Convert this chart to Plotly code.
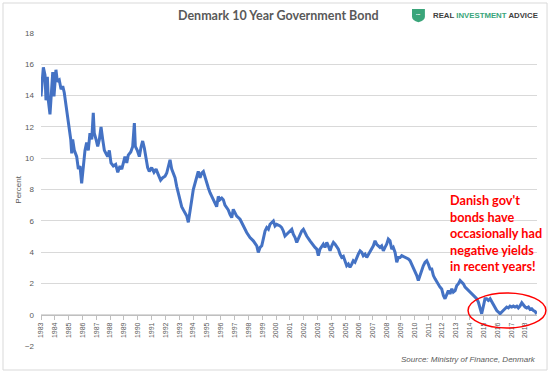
import plotly.graph_objects as go

# Danish 10-year government bond yield (percent), decimal year vs value
years = [
    1983.00, 1983.17, 1983.29, 1983.36, 1983.46, 1983.53, 1983.65, 1983.77, 1983.85, 1983.94,
    1984.08, 1984.18, 1984.32, 1984.45, 1984.57, 1984.68, 1984.81, 1984.93, 1985.05, 1985.15,
    1985.22, 1985.29, 1985.41, 1985.58, 1985.70, 1985.82, 1985.94, 1986.06, 1986.18, 1986.30,
    1986.42, 1986.54, 1986.67, 1986.78, 1986.85, 1986.98, 1987.10, 1987.22, 1987.34, 1987.46,
    1987.58, 1987.70, 1987.82, 1987.94, 1988.06, 1988.23, 1988.40, 1988.55, 1988.71, 1988.84,
    1988.95, 1989.07, 1989.20, 1989.31, 1989.49, 1989.63, 1989.75, 1989.82, 1989.96, 1990.11,
    1990.23, 1990.35, 1990.47, 1990.59, 1990.71, 1990.83, 1991.00, 1991.17, 1991.32, 1991.48,
    1991.65, 1991.80, 1991.97, 1992.09, 1992.23, 1992.33, 1992.45, 1992.57, 1992.69, 1992.81,
    1992.93, 1993.05, 1993.17, 1993.29, 1993.41, 1993.54, 1993.65, 1993.77, 1993.90, 1994.01,
    1994.14, 1994.26, 1994.37, 1994.50, 1994.62, 1994.74, 1994.86, 1994.98, 1995.10, 1995.22,
    1995.34, 1995.46, 1995.58, 1995.70, 1995.82, 1995.94, 1996.07, 1996.18, 1996.30, 1996.43,
    1996.54, 1996.67, 1996.79, 1996.90, 1997.15, 1997.39, 1997.63, 1997.87, 1998.11, 1998.35,
    1998.60, 1998.71, 1998.84, 1998.96, 1999.07, 1999.20, 1999.32, 1999.44, 1999.56, 1999.68,
    1999.80, 1999.92, 2000.04, 2000.28, 2000.40, 2000.52, 2000.64, 2000.77, 2001.00, 2001.13,
    2001.24, 2001.37, 2001.49, 2001.60, 2001.73, 2001.85, 2001.97, 2002.09, 2002.21, 2002.45,
    2002.69, 2002.81, 2002.94, 2003.05, 2003.17, 2003.30, 2003.41, 2003.53, 2003.66, 2003.77,
    2003.90, 2004.02, 2004.14, 2004.26, 2004.38, 2004.50, 2004.62, 2004.74, 2004.86, 2004.98,
    2005.10, 2005.22, 2005.34, 2005.47, 2005.58, 2005.70, 2005.83, 2005.94, 2006.07, 2006.19,
    2006.30, 2006.43, 2006.55, 2006.67, 2006.79, 2006.91, 2007.03, 2007.15, 2007.27, 2007.39,
    2007.51, 2007.63, 2007.75, 2007.87, 2007.99, 2008.11, 2008.23, 2008.36, 2008.47, 2008.60,
    2008.72, 2008.84, 2008.96, 2009.08, 2009.32, 2009.56, 2009.68, 2009.80, 2009.92, 2010.04,
    2010.17, 2010.28, 2010.40, 2010.53, 2010.64, 2010.77, 2010.89, 2011.00, 2011.13, 2011.25,
    2011.37, 2011.49, 2011.61, 2011.73, 2011.85, 2011.97, 2012.09, 2012.21, 2012.33, 2012.45,
    2012.57, 2012.70, 2012.81, 2012.94, 2013.06, 2013.17, 2013.30, 2013.42, 2013.54, 2013.66,
    2013.78, 2013.90, 2014.02, 2014.14, 2014.26, 2014.38, 2014.50, 2014.62, 2014.74, 2014.86,
    2014.97, 2015.10, 2015.22, 2015.34, 2015.47, 2015.59, 2015.70, 2015.83, 2015.95, 2016.07,
    2016.19, 2016.31, 2016.43, 2016.55, 2016.67, 2016.79, 2016.91, 2017.03, 2017.15, 2017.27,
    2017.40, 2017.51, 2017.63, 2017.76, 2017.87, 2018.00, 2018.12, 2018.24, 2018.36, 2018.48,
    2018.60, 2018.72, 2018.84,
]
yields = [
    13.95, 15.8, 15.3, 13.7, 15.2, 13.7, 12.8, 14.4, 15.5, 13.95,
    15.65, 14.9, 15.0, 14.4, 14.6, 14.2, 13.3, 12.5, 11.6, 11.2,
    10.3, 11.2, 10.5, 10.1, 9.3, 9.5, 8.4, 9.5, 10.5, 11.0,
    10.5, 11.6, 11.2, 12.9, 11.6, 11.2, 10.75, 11.2, 12.0, 11.2,
    10.5, 10.3, 10.1, 10.5, 9.7, 9.5, 9.6, 9.1, 9.5, 9.3,
    9.7, 10.1, 9.7, 10.2, 10.4, 10.75, 12.25, 10.75, 10.5, 10.1,
    10.7, 11.1, 10.65, 10.1, 9.4, 9.15, 9.4, 9.1, 9.3, 8.95,
    8.6, 8.75, 8.85, 9.05, 9.6, 9.9, 9.3, 8.95, 8.75, 8.2,
    7.8, 7.35, 6.9, 6.7, 6.5, 6.3, 5.9, 6.5, 7.35, 8.0,
    8.4, 8.85, 9.15, 8.75, 9.05, 9.15, 8.75, 8.5, 8.1, 7.8,
    7.55, 7.35, 7.15, 6.9, 7.55, 7.35, 7.45, 7.35, 7.0, 6.8,
    6.7, 6.4, 6.2, 6.73, 6.3, 6.1, 5.67, 5.25, 4.93, 4.72,
    4.4, 3.98, 4.3, 4.4, 4.83, 5.35, 5.57, 5.46, 5.78, 5.89,
    5.99, 5.67, 5.78, 5.67, 5.57, 5.35, 5.03, 5.14, 5.35, 5.46,
    5.14, 4.93, 4.62, 4.83, 5.03, 5.35, 5.46, 5.25, 5.03, 4.72,
    4.4, 4.3, 4.19, 3.77, 4.19, 4.4, 4.5, 4.3, 4.62, 4.4,
    4.08, 4.4, 4.62, 4.5, 4.3, 4.19, 3.87, 3.66, 3.73, 3.35,
    3.13, 3.24, 3.03, 3.24, 3.45, 3.35, 3.66, 3.87, 4.08, 3.98,
    3.77, 3.87, 3.66, 3.87, 4.08, 4.19, 4.4, 4.72, 4.5, 4.4,
    4.3, 4.4, 4.08, 4.3, 4.5, 4.83, 4.72, 4.19, 4.3, 3.98,
    3.35, 3.66, 3.66, 3.77, 3.66, 3.56, 3.45, 3.24, 3.03, 2.81,
    2.5, 2.18, 2.5, 2.92, 3.13, 3.35, 3.45, 3.24, 2.92, 2.92,
    2.5, 2.29, 2.08, 1.97, 1.76, 1.65, 1.23, 1.02, 1.33, 1.54,
    1.33, 1.65, 1.44, 1.54, 1.86, 1.97, 2.18, 2.08, 1.97, 1.76,
    1.65, 1.54, 1.44, 1.33, 1.23, 1.12, 1.02, 0.81, 0.38, 0.06,
    0.49, 1.02, 1.02, 0.91, 1.02, 0.81, 0.7, 0.49, 0.27, 0.17,
    0.06, 0.17, 0.27, 0.38, 0.49, 0.43, 0.55, 0.49, 0.55, 0.49,
    0.55, 0.43, 0.55, 0.76, 0.63, 0.49, 0.43, 0.49, 0.34, 0.38,
    0.27, 0.21, 0.06,
]
tick_years = list(range(1983, 2019))
tick_labels = [str(y) for y in tick_years]
y_ticks = list(range(-2, 19, 2))

title_text = "Denmark 10 Year Government Bond"
note_text = "Danish gov't<br>bonds have<br>occasionally had<br>negative yields<br>in recent years!"
source_text = "Source: Ministry of Finance, Denmark"

GREY = "#595959"
GREEN = "#3aa57a"

fig = go.Figure()
fig.add_trace(go.Scatter(
    x=years, y=yields, mode="lines",
    line=dict(color="#4472C4", width=3),
    hoverinfo="skip", showlegend=False,
))

fig.update_layout(
    width=550, height=373,
    margin=dict(l=41, r=13, t=33, b=27, pad=0),
    paper_bgcolor="white", plot_bgcolor="white",
    font=dict(family="Liberation Sans, Arial, sans-serif", color=GREY),
    xaxis=dict(
        range=[1983, 2018.86], tickmode="array", tickvals=tick_years, ticktext=tick_labels,
        tickangle=-90, tickfont=dict(size=7, color=GREY),
        showgrid=False, zeroline=False,
        showline=True, linecolor="#bfbfbf", linewidth=1,
        ticks="outside", ticklen=4, tickcolor="#bfbfbf",
        anchor="free", position=0.1,
    ),
    yaxis=dict(
        range=[-2, 18], tickmode="array", tickvals=y_ticks,
        tickfont=dict(size=8, color=GREY), ticklabelstandoff=6,
        showgrid=True, gridcolor="#d9d9d9", gridwidth=1,
        zeroline=False, showline=False, domain=[0, 1],
    ),
)

shapes = [
    # chart border
    dict(type="rect", xref="paper", yref="paper", x0=-0.0766, x1=1.0202, y0=-0.0767, y1=1.0958,
         line=dict(color="#d9d9d9", width=1), fillcolor="rgba(0,0,0,0)", layer="below"),
    # red ellipse
    dict(type="circle", xref="paper", yref="paper", x0=0.861, x1=1.018, y0=0.0575, y1=0.1693,
         line=dict(color="#ff0000", width=1.5)),
    # logo shield
    dict(type="path", xref="paper", yref="paper",
         path="M 0.748 1.0767 L 0.774 1.0767 L 0.774 1.052 Q 0.774 1.040 0.761 1.034 Q 0.748 1.040 0.748 1.052 Z",
         fillcolor=GREEN, line=dict(width=0)),
]
fig.update_layout(shapes=shapes)

annotations = [
    dict(text="<b>" + title_text + "</b>", xref="paper", yref="paper", x=0.478, y=1.0575,
         xanchor="center", yanchor="middle", showarrow=False,
         font=dict(family="Lato, Liberation Sans, sans-serif", size=12.5, color=GREY)),
    dict(text="<b>REAL <span style='color:" + GREEN + "'>INVESTMENT</span> ADVICE</b>",
         xref="paper", yref="paper", x=0.786, y=1.056, xanchor="left", yanchor="middle",
         showarrow=False, font=dict(family="Liberation Sans, Arial, sans-serif", size=7.8, color="#404040")),
    dict(text="•••", xref="paper", yref="paper", x=0.761, y=1.058, xanchor="center", yanchor="middle",
         showarrow=False, font=dict(size=4, color="white")),
    dict(text="Percent", xref="paper", yref="paper", x=-0.046, y=0.5, textangle=-90,
         xanchor="center", yanchor="middle", showarrow=False, font=dict(size=8, color=GREY)),
    dict(text="<b>" + note_text + "</b>", xref="paper", yref="paper", x=0.8206, y=0.5,
         xanchor="left", yanchor="top", align="left", showarrow=False,
         font=dict(family="Lato, Liberation Sans, sans-serif", size=12.7, color="#ff0000")),
    dict(text="<i>" + source_text + "</i>", xref="paper", yref="paper", x=1.002, y=-0.0447,
         xanchor="right", yanchor="middle", showarrow=False,
         font=dict(size=8, color=GREY)),
]
fig.update_layout(annotations=annotations)

fig.write_html(
    "out.html",
    config={"displayModeBar": False, "staticPlot": True},
    post_script="document.body.style.margin='0';document.body.style.overflow='hidden';",
)
